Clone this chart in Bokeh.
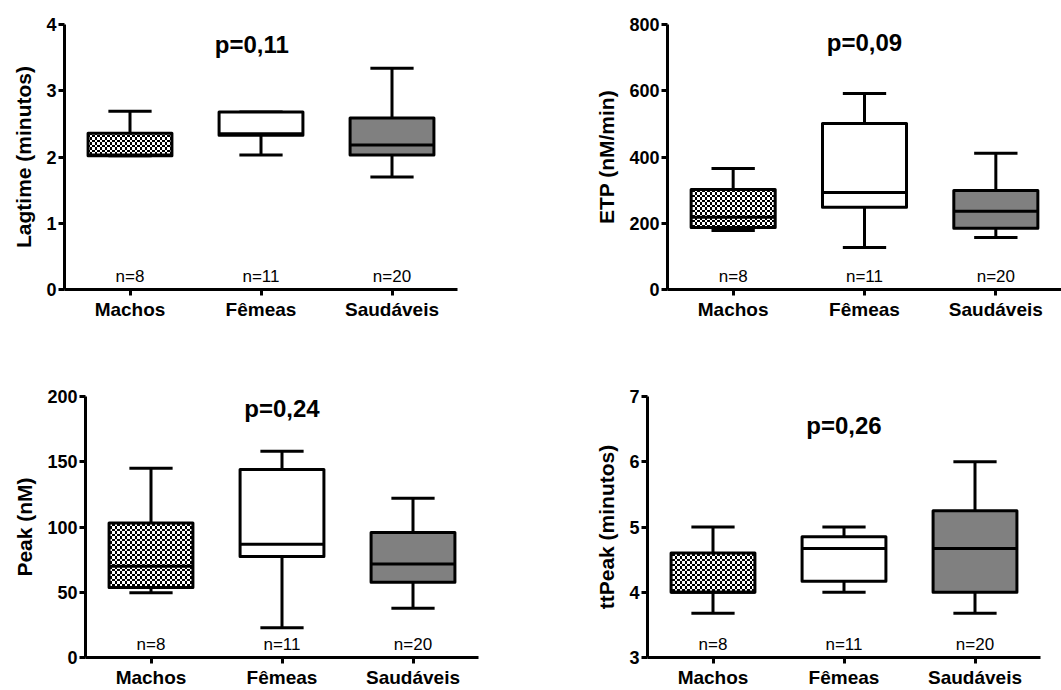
import zlib, struct, base64
from bokeh.plotting import figure
from bokeh.layouts import column, row
from bokeh.models import ColumnDataSource, FixedTicker, Range1d, ImageURLTexture
from bokeh.core.properties import value
from bokeh.embed import file_html
from bokeh.resources import INLINE

# ---------------- data ----------------
categories = ["Machos", "Fêmeas", "Saudáveis"]
n_labels = ["n=8", "n=11", "n=20"]
box_fill = ["white", "white", "#808080"]
box_hatch = ["chk", " ", " "]

lag_q1 = [2.02, 2.33, 2.03]
lag_med = [2.03, 2.35, 2.18]
lag_q3 = [2.36, 2.68, 2.59]
lag_lo = [2.02, 2.03, 1.70]
lag_hi = [2.69, 2.68, 3.34]

etp_q1 = [187, 248, 185]
etp_med = [218, 293, 236]
etp_q3 = [302, 501, 299]
etp_lo = [178, 127, 157]
etp_hi = [365, 592, 411]

peak_q1 = [53.6, 77.4, 57.6]
peak_med = [70, 86.7, 71.7]
peak_q3 = [103, 144, 95.7]
peak_lo = [49.6, 22.8, 37.8]
peak_hi = [145, 158, 122]

tt_q1 = [4.0, 4.17, 4.0]
tt_med = [4.0, 4.67, 4.67]
tt_q3 = [4.60, 4.85, 5.25]
tt_lo = [3.68, 4.0, 3.68]
tt_hi = [5.0, 5.0, 6.0]

p_values = ["p=0,11", "p=0,09", "p=0,24", "p=0,26"]

FONT = "Liberation Sans"


def checker_png():
    sizes = [2, 3, 2, 3]
    band = []
    for i, s in enumerate(sizes):
        band += [i] * s
    n = len(band)
    raw = b""
    for y in range(n):
        raw += b"\x00" + bytes(255 if (band[x] + band[y]) % 2 == 0 else 0 for x in range(n))

    def chunk(t, d):
        c = struct.pack(">I", len(d)) + t + d
        return c + struct.pack(">I", zlib.crc32(t + d) & 0xffffffff)

    png = b"\x89PNG\r\n\x1a\n" + chunk(b"IHDR", struct.pack(">IIBBBBB", n, n, 8, 0, 0, 0, 0)) \
        + chunk(b"IDAT", zlib.compress(raw)) + chunk(b"IEND", b"")
    return "data:image/png;base64," + base64.b64encode(png).decode()


CHK_URL = checker_png()


def panel(width, height, borders, x_end, y_rng, y_ticks, ylabel, q1, med, q3, lo, hi,
          ptext, p_xy):
    left, right, top, bottom = borders
    p = figure(width=width, height=height, output_backend="svg", toolbar_location=None,
               x_range=Range1d(0.5, x_end), y_range=Range1d(*y_rng),
               min_border_left=left, min_border_right=right,
               min_border_top=top, min_border_bottom=bottom)
    p.outline_line_color = None
    p.xgrid.visible = False
    p.ygrid.visible = False
    p.background_fill_color = "white"
    p.border_fill_color = "white"

    xs = [i + 1 for i in range(len(categories))]
    half_box = 0.32
    half_cap = 0.165

    # axes
    for ax in (p.xaxis[0], p.yaxis[0]):
        ax.axis_line_width = 3
        ax.major_tick_line_width = 3
        ax.major_tick_in = 0
        ax.major_tick_out = 6
        ax.minor_tick_line_color = None
        ax.major_label_text_font = FONT
        ax.major_label_text_font_style = "bold"
        ax.major_label_text_color = "black"
        ax.axis_line_color = "black"
        ax.major_tick_line_color = "black"
    p.xaxis.ticker = FixedTicker(ticks=xs)
    p.xaxis.major_label_overrides = {x: c for x, c in zip(xs, categories)}
    p.xaxis.major_label_text_font_size = "19px"
    p.xaxis.major_label_standoff = 3
    p.yaxis.ticker = FixedTicker(ticks=y_ticks)
    p.yaxis.major_label_text_font_size = "18px"
    p.yaxis.major_label_standoff = 2
    p.yaxis.axis_label = ylabel
    p.yaxis.axis_label_text_font = FONT
    p.yaxis.axis_label_text_font_style = "bold"
    p.yaxis.axis_label_text_font_size = "21px"
    p.yaxis.axis_label_text_color = "black"
    p.yaxis.axis_label_standoff = 8

    src = ColumnDataSource(dict(
        x=xs, q1=q1, med=med, q3=q3, lo=lo, hi=hi,
        xl=[x - half_box for x in xs], xr=[x + half_box for x in xs],
        cl=[x - half_cap for x in xs], cr=[x + half_cap for x in xs],
        fill=box_fill, hatch=box_hatch,
    ))
    # whiskers
    p.segment(x0="x", x1="x", y0="q3", y1="hi", source=src, line_width=3, line_color="black")
    p.segment(x0="x", x1="x", y0="lo", y1="q1", source=src, line_width=3, line_color="black")
    p.segment(x0="cl", x1="cr", y0="hi", y1="hi", source=src, line_width=3, line_color="black")
    p.segment(x0="cl", x1="cr", y0="lo", y1="lo", source=src, line_width=3, line_color="black")
    # boxes
    p.vbar(x="x", width=2 * half_box, bottom="q1", top="q3", source=src,
           fill_color="fill", hatch_pattern="hatch",
           hatch_extra={"chk": ImageURLTexture(url=CHK_URL)},
           line_color="black", line_width=3, line_join="round")
    # medians
    p.segment(x0="xl", x1="xr", y0="med", y1="med", source=src, line_width=3, line_color="black")

    # n labels (13 px above the x axis)
    y0, y1 = y_rng
    frame_h = height - top - bottom
    yn = y0 + 13 * (y1 - y0) / frame_h
    p.text(x=xs, y=[yn] * len(xs), text=n_labels, text_align="center",
           text_baseline="middle", text_font=value(FONT), text_font_size="17px",
           text_color="black")
    # p value
    p.text(x=[p_xy[0]], y=[p_xy[1]], text=[ptext], text_align="center",
           text_baseline="middle", text_font=value(FONT), text_font_size="24px",
           text_font_style="bold", text_color="black")
    return p


p1 = panel(530, 324, (64, 73, 23, 35), 3.5, (0, 4), [0, 1, 2, 3, 4], "Lagtime (minutos)",
           lag_q1, lag_med, lag_q3, lag_lo, lag_hi, p_values[0], (1.93, 3.70))
p2 = panel(531, 324, (137, 0, 24, 35), 3.5, (0, 800), [0, 200, 400, 600, 800], "ETP (nM/min)",
           etp_q1, etp_med, etp_q3, etp_lo, etp_hi, p_values[1], (2.0, 746))
p3 = panel(530, 366, (85, 52, 72, 28), 3.5, (0, 200), [0, 50, 100, 150, 200], "Peak (nM)",
           peak_q1, peak_med, peak_q3, peak_lo, peak_hi, p_values[2], (2.0, 191))
p4 = panel(531, 366, (117, 21, 72, 28), 3.5, (3, 7), [3, 4, 5, 6, 7], "ttPeak (minutos)",
           tt_q1, tt_med, tt_q3, tt_lo, tt_hi, p_values[3], (2.0, 6.56))

layout = column(row(p1, p2), row(p3, p4))
open("out.html", "w").write(file_html(layout, INLINE))
